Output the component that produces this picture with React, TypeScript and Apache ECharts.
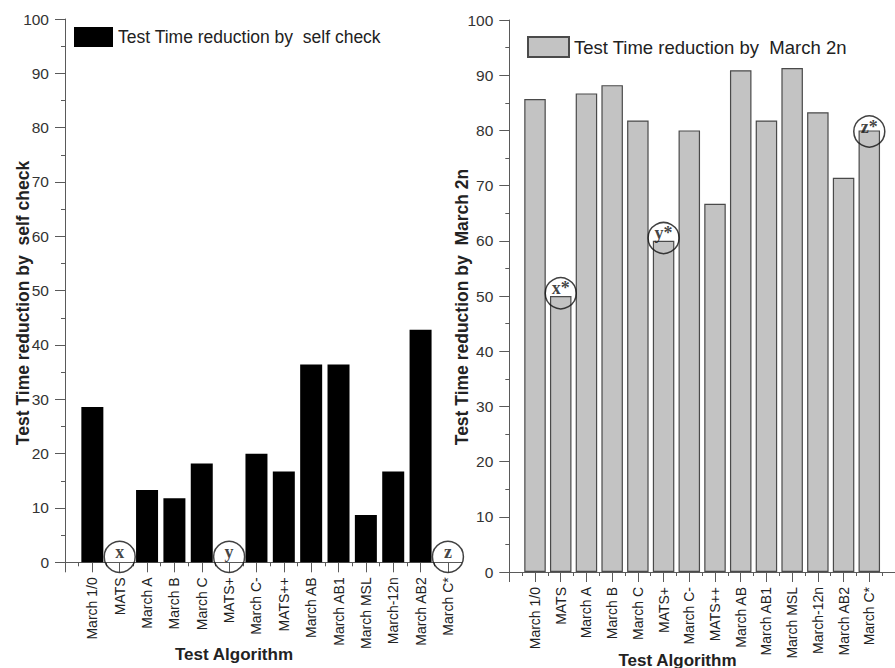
import React, { useEffect, useRef } from "react";
import * as echarts from "echarts";

const categories = [
  "March 1/0", "MATS", "March A", "March B", "March C", "MATS+", "March C-",
  "MATS++", "March AB", "March AB1", "March MSL", "March-12n", "March AB2", "March C*",
];
const selfCheck = [28.6, 0, 13.3, 11.8, 18.2, 0, 20, 16.7, 36.4, 36.4, 8.7, 16.7, 42.8, 0];
const march2n = [85.7, 50, 86.7, 88.2, 81.8, 60, 80, 66.7, 90.9, 81.8, 91.3, 83.3, 71.4, 80];

const leftMarks = [
  { pos: 2, value: 1, label: "x" },
  { pos: 6, value: 1, label: "y" },
  { pos: 14, value: 1, label: "z" },
];
const rightMarks = [
  { pos: 2, value: 50.5, label: "x*" },
  { pos: 6, value: 60.5, label: "y*" },
  { pos: 14, value: 79.8, label: "z*" },
];

const seriesNames = ["Test Time reduction by  self check", "Test Time reduction by  March 2n"];
const yTicks = { min: 0, max: 100, interval: 10 };

const SANS = "'Liberation Sans', Arial, sans-serif";
const SERIF = "'Liberation Serif', 'Times New Roman', serif";
const AXIS = "#5a5a5a";
const TEXT = "#222";

const tickPositions = categories.map((_, i) => i);
const allTicks = [...tickPositions, categories.length];
const labelPositions = categories.map((_, i) => i + 1);

function xAxisFor(gridIndex: number, max: number) {
  return {
    type: "value",
    gridIndex,
    min: 0,
    max,
    interval: 1,
    splitLine: { show: false },
    axisLine: { show: true, onZero: false, lineStyle: { color: AXIS, width: 1 } },
    axisTick: { show: true, length: 10, lineStyle: { color: AXIS }, customValues: allTicks },
    minorTick: { show: true, splitNumber: 2, length: 4, lineStyle: { color: AXIS } },
    axisLabel: {
      rotate: 90,
      margin: 15,
      fontSize: 14,
      fontFamily: SANS,
      color: TEXT,
      customValues: labelPositions,
      formatter: (v: number) => categories[Math.round(v) - 1] ?? "",
    },
  };
}

function yAxisFor(gridIndex: number) {
  return {
    type: "value",
    gridIndex,
    min: yTicks.min,
    max: yTicks.max,
    interval: yTicks.interval,
    splitLine: { show: false },
    axisLine: { show: true, lineStyle: { color: AXIS, width: 1 } },
    axisTick: { show: true, length: 10, lineStyle: { color: AXIS } },
    minorTick: { show: true, splitNumber: 2, length: 4, lineStyle: { color: AXIS } },
    axisLabel: { margin: 16, fontSize: 15.5, fontFamily: SANS, color: "#333" },
  };
}

function markSeries(marks: typeof leftMarks, xi: number, yi: number) {
  return {
    type: "scatter",
    xAxisIndex: xi,
    yAxisIndex: yi,
    clip: false,
    symbol: "circle",
    symbolSize: 31,
    z: 5,
    itemStyle: { color: "rgba(0,0,0,0)", borderColor: "#111", borderWidth: 1.5 },
    label: {
      show: true,
      position: "inside",
      offset: [0, -5],
      formatter: (p: any) => p.name,
      fontFamily: SERIF,
      fontWeight: "bold",
      fontSize: 18,
      color: "#111",
    },
    emphasis: { disabled: true },
    data: marks.map((m) => ({ name: m.label, value: [m.pos, m.value] })),
  };
}

function textEl(text: string, x: number, y: number, size: number, rotation = 0) {
  return {
    type: "text",
    x,
    y,
    rotation,
    style: {
      text,
      fontSize: size,
      fontWeight: "bold",
      fontFamily: SANS,
      fill: TEXT,
      align: "center",
      verticalAlign: "middle",
      textAlign: "center",
      textVerticalAlign: "middle",
    },
  };
}

export default function App() {
  const ref = useRef<HTMLDivElement>(null);
  useEffect(() => {
    if (!ref.current) return;
    const chart = echarts.init(ref.current, null, { renderer: "svg" });
    chart.setOption({
      animation: false,
      backgroundColor: "#fff",
      grid: [
        { left: 65, top: 19, width: 396.6, height: 543.3 },
        { left: 509.3, top: 20, width: 396.6, height: 552 },
      ],
      xAxis: [xAxisFor(0, 14.5), xAxisFor(1, 15)],
      yAxis: [yAxisFor(0), yAxisFor(1)],
      legend: [
        {
          data: [seriesNames[0]],
          icon: "rect",
          left: 74,
          top: 27,
          padding: 0,
          itemWidth: 39,
          itemHeight: 20,
          selectedMode: false,
          textStyle: { fontSize: 17.5, fontFamily: SANS, color: TEXT },
        },
        {
          data: [seriesNames[1]],
          icon: "rect",
          left: 527,
          top: 36,
          padding: 0,
          itemWidth: 41,
          itemHeight: 20,
          selectedMode: false,
          textStyle: { fontSize: 18.5, fontFamily: SANS, color: TEXT },
        },
      ],
      series: [
        {
          name: seriesNames[0],
          type: "bar",
          xAxisIndex: 0,
          yAxisIndex: 0,
          barWidth: 22,
          itemStyle: { color: "#000" },
          emphasis: { disabled: true },
          data: selfCheck.map((v, i) => [i + 1, v]),
        },
        {
          name: seriesNames[1],
          type: "bar",
          xAxisIndex: 1,
          yAxisIndex: 1,
          barWidth: 21.5,
          itemStyle: { color: "#c3c3c3", borderColor: "#4a4a4a", borderWidth: 1.2 },
          emphasis: { disabled: true },
          data: march2n.map((v, i) => [i + 1, v]),
        },
        markSeries(leftMarks, 0, 0),
        markSeries(rightMarks, 1, 1),
      ],
      graphic: [
        textEl("Test Time reduction by  self check", 23, 303, 17.5, Math.PI / 2),
        textEl("Test Time reduction by  March 2n", 462, 307, 17.5, Math.PI / 2),
        textEl("Test Algorithm", 234, 654, 17),
        textEl("Test Algorithm", 677.5, 660, 17),
      ],
    });
    return () => chart.dispose();
  }, []);
  return (
    <div
      ref={ref}
      style={{ position: "fixed", left: 0, top: 0, width: 895, height: 668, background: "#fff" }}
    />
  );
}
